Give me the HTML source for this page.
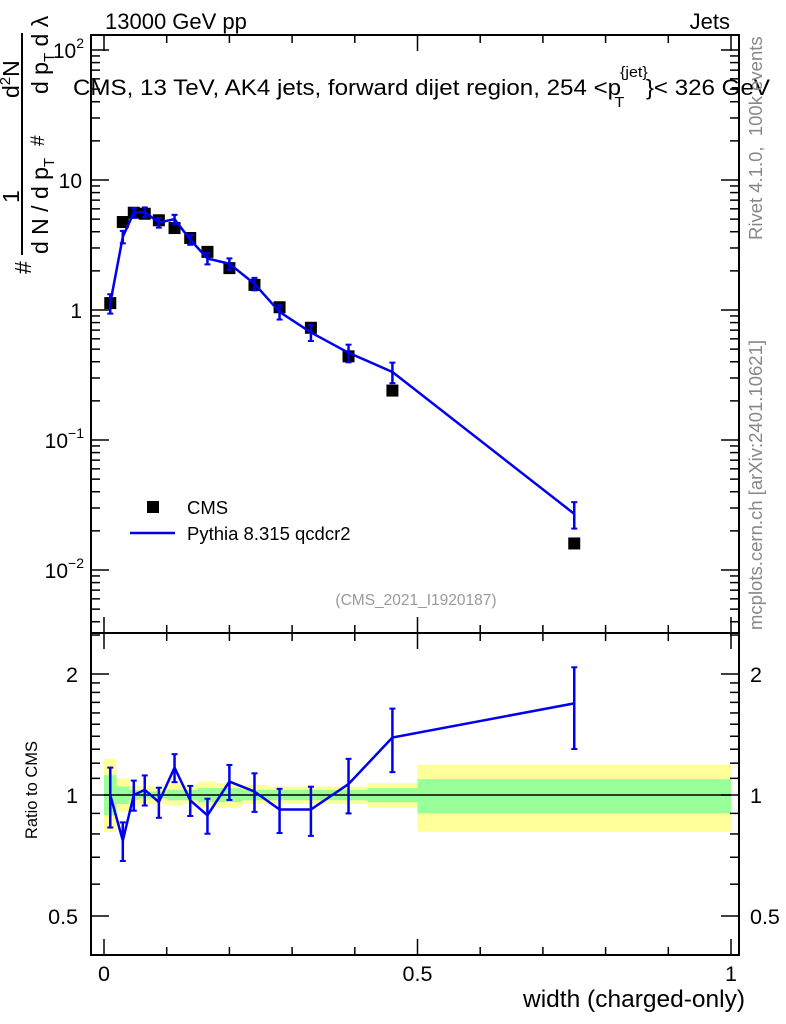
<!DOCTYPE html>
<html><head><meta charset="utf-8"><style>
body{margin:0;background:#fff;}
svg{display:block;font-family:"Liberation Sans",sans-serif;}
</style></head><body>
<svg id="chart" width="786" height="1024" viewBox="0 0 786 1024" xmlns="http://www.w3.org/2000/svg">
<text x="105" y="29" font-size="22">13000 GeV pp</text>
<text x="730" y="29" font-size="22" text-anchor="end">Jets</text>
<text x="73" y="95" font-size="22.5" textLength="697" lengthAdjust="spacingAndGlyphs">CMS, 13 TeV, AK4 jets, forward dijet region, 254 &lt;p<tspan font-size="15" dy="-18" dx="-1">{jet}</tspan><tspan font-size="15" dx="-31" dy="30">T</tspan><tspan dy="-12" dx="20">}&lt; 326 GeV</tspan></text>
<text transform="translate(762,240) rotate(-90)" font-size="18.5" fill="#888">Rivet 4.1.0,&#160; 100k events</text>
<text transform="translate(762,630) rotate(-90)" font-size="18.5" fill="#888">mcplots.cern.ch [arXiv:2401.10621]</text>
<text x="416" y="605" font-size="15.5" fill="#999" text-anchor="middle">(CMS_2021_I1920187)</text>
<g font-size="23">
<line x1="22" y1="33" x2="22" y2="255" stroke="#000" stroke-width="2"/>
<text transform="translate(31,274) rotate(-90)">#</text>
<text transform="translate(19,203) rotate(-90)">1</text>
<text transform="translate(48,254) rotate(-90)">d N / d p<tspan font-size="15" dy="6">T</tspan></text>
<text transform="translate(44,146) rotate(-90)" font-size="19">#</text>
<text transform="translate(48,94) rotate(-90)">d p<tspan font-size="15" dy="6">T</tspan><tspan dy="-6"> d λ</tspan></text>
<text transform="translate(19,98) rotate(-90)">d<tspan font-size="15" dy="-9">2</tspan><tspan dy="9">N</tspan></text>
</g>
<text transform="translate(37,790) rotate(-90)" font-size="16.5" text-anchor="middle">Ratio to CMS</text>
<text x="745" y="1007" font-size="24.5" text-anchor="end">width (charged-only)</text>
<g id="g"></g>
</svg>
<script>
const xCenters=[0.01,0.03,0.0475,0.065,0.0875,0.1125,0.1375,0.165,0.2,0.24,0.28,0.33,0.39,0.46,0.75];
const binEdges=[0,0.02,0.04,0.055,0.075,0.1,0.125,0.15,0.18,0.22,0.26,0.3,0.36,0.42,0.5,1.0];
const cmsValues=[1.13,4.75,5.6,5.5,4.9,4.27,3.58,2.8,2.1,1.56,1.05,0.73,0.44,0.24,0.016];
const pythiaRatio=[1.0,0.77,1.0,1.03,0.96,1.17,0.97,0.89,1.08,1.02,0.92,0.92,1.065,1.39,1.69];
const pythiaRelErr=[0.17,0.11,0.086,0.086,0.086,0.08,0.086,0.1,0.1,0.11,0.126,0.14,0.155,0.18,0.23];
const yellowHi=[1.23,1.1,1.06,1.05,1.05,1.07,1.06,1.08,1.07,1.06,1.05,1.05,1.05,1.07,1.19];
const yellowLo=[0.81,0.91,0.94,0.95,0.95,0.94,0.95,0.93,0.93,0.95,0.95,0.95,0.95,0.93,0.81];
const greenHi=[1.12,1.05,1.03,1.02,1.02,1.03,1.03,1.04,1.04,1.03,1.03,1.03,1.03,1.04,1.095];
const greenLo=[0.89,0.95,0.97,0.98,0.98,0.97,0.97,0.96,0.96,0.97,0.97,0.97,0.97,0.96,0.9];
const mainTickLabels=["10^−2","10^−1","1","10","10^2"];
const ratioTickLabels=["0.5","1","2"];
const xTickLabels=["0","0.5","1"];

const NS="http://www.w3.org/2000/svg";
const G=document.getElementById('g');
const L=91,R=739,T=35,M=633,B=955;
const X=v=>104+v*627;
const Y=v=>310-Math.log10(v)*130;
const YR=v=>795-Math.log2(v)*121;
function mk(tag,attrs,parent){const e=document.createElementNS(NS,tag);for(const k in attrs)e.setAttribute(k,attrs[k]);(parent||G).appendChild(e);return e;}

for(let i=0;i<xCenters.length;i++){
  const x0=X(binEdges[i]),x1=X(binEdges[i+1]);
  const y=mk('rect',{x:x0,y:YR(yellowHi[i]),width:x1-x0,height:YR(yellowLo[i])-YR(yellowHi[i]),fill:'#ffff99'});
  
  
}
for(let i=0;i<xCenters.length;i++){
  const x0=X(binEdges[i]),x1=X(binEdges[i+1]);
  const g=mk('rect',{x:x0,y:YR(greenHi[i]),width:x1-x0,height:YR(greenLo[i])-YR(greenHi[i]),fill:'#99ff99'});
  
  
}
mk('line',{x1:X(0),x2:X(1),y1:YR(1),y2:YR(1),stroke:'#000','stroke-width':1.5});

for(const [t,b] of [[T,M],[M,B]]){
  const f=mk('rect',{x:L,y:t,width:R-L,height:b-t,fill:'none',stroke:'#000','stroke-width':2});
  
  
  for(let k=0;k<=10;k++){const xv=X(k/10),len=(k%5==0)?16:8;
    mk('line',{x1:xv,x2:xv,y1:b,y2:b-len,stroke:'#000','stroke-width':1.5});
    mk('line',{x1:xv,x2:xv,y1:t,y2:t+len,stroke:'#000','stroke-width':1.5});}
}
for(let d=-3;d<=2;d++){for(let m=1;m<10;m++){const v=m*Math.pow(10,d);const y=Y(v);if(y<T||y>M)continue;const len=m==1?18:9;
  mk('line',{x1:L,x2:L+len,y1:y,y2:y,stroke:'#000','stroke-width':1.5});mk('line',{x1:R,x2:R-len,y1:y,y2:y,stroke:'#000','stroke-width':1.5});}}
mainTickLabels.forEach((s,i)=>{const d=i-2;const y=Y(Math.pow(10,d));const t=mk('text',{x:82,y:y+8,'font-size':21,'text-anchor':'end'});
  
  if(s.indexOf('^')>=0){const p=s.split('^');t.textContent=p[0];const sp=mk('tspan',{'font-size':14,dy:-10},t);sp.textContent=p[1];t.setAttribute('x',84);}else t.textContent=s;});
[0.4,0.5,0.6,0.7,0.8,0.9,1,1.1,1.2,1.3,1.4,1.5,1.6,1.7,1.8,1.9,2,2.5].forEach(v=>{const y=YR(v);if(y<M||y>B)return;const len=(v==0.5||v==1||v==2)?18:9;
  mk('line',{x1:L,x2:L+len,y1:y,y2:y,stroke:'#000','stroke-width':1.5});mk('line',{x1:R,x2:R-len,y1:y,y2:y,stroke:'#000','stroke-width':1.5});});
ratioTickLabels.forEach(s=>{const y=YR(parseFloat(s));
  const a=mk('text',{x:78,y:y+8,'font-size':21.5,'text-anchor':'end'});a.textContent=s;
  const b=mk('text',{x:750,y:y+8,'font-size':21.5});b.textContent=s;});
xTickLabels.forEach(s=>{const t=mk('text',{x:X(parseFloat(s)),y:981,'font-size':21.5,'text-anchor':'middle'});t.textContent=s;});

cmsValues.forEach((v,i)=>{const r=mk('rect',{x:X(xCenters[i])-6,y:Y(v)-6,width:12,height:12,fill:'#000'});
  });
const pyVals=cmsValues.map((v,i)=>v*pythiaRatio[i]);
const pl=mk('polyline',{points:pyVals.map((v,i)=>X(xCenters[i])+','+Y(v)).join(' '),fill:'none',stroke:'#0000ee','stroke-width':2.5});

function err(x,y1,y2){mk('line',{x1:x,x2:x,y1:y1,y2:y2,stroke:'#0000ee','stroke-width':2.5});
  mk('line',{x1:x-3,x2:x+3,y1:y1,y2:y1,stroke:'#0000ee','stroke-width':2});mk('line',{x1:x-3,x2:x+3,y1:y2,y2:y2,stroke:'#0000ee','stroke-width':2});}
pyVals.forEach((v,i)=>{const e=pythiaRelErr[i];err(X(xCenters[i]),Y(v*(1+e)),Y(v*(1-e)));});
const rl=mk('polyline',{points:pythiaRatio.map((v,i)=>X(xCenters[i])+','+YR(v)).join(' '),fill:'none',stroke:'#0000ee','stroke-width':2.5});

pythiaRatio.forEach((v,i)=>{const e=pythiaRelErr[i];err(X(xCenters[i]),YR(v*(1+e)),YR(v*(1-e)));});

const lg=mk('g',{});
mk('rect',{x:147,y:501,width:12,height:12,fill:'#000'},lg);
const t1=mk('text',{x:187,y:514,'font-size':18.5},lg);t1.textContent='CMS';
mk('line',{x1:130,x2:175,y1:533,y2:533,stroke:'#0000ee','stroke-width':2.5},lg);
const t2=mk('text',{x:187,y:540,'font-size':18.5},lg);t2.textContent='Pythia 8.315 qcdcr2';
</script>
</body></html>
